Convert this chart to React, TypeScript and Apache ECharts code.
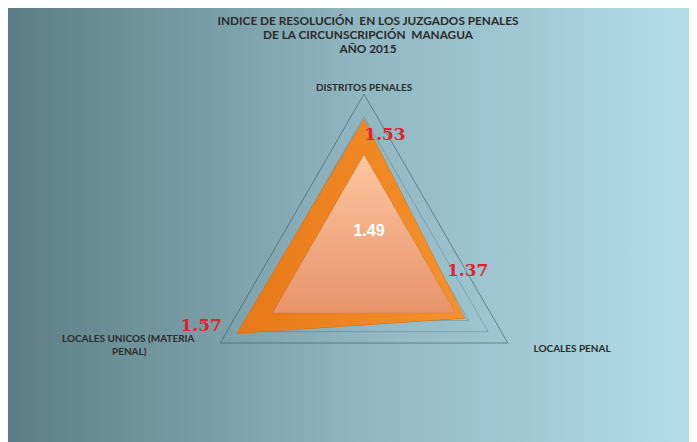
import React, { useEffect, useRef } from "react";
import * as echarts from "echarts";

// ---- data ----
const TITLE_LINES = [
  "INDICE DE RESOLUCIÓN  EN LOS JUZGADOS PENALES",
  "DE LA CIRCUNSCRIPCIÓN  MANAGUA",
  "AÑO 2015",
];
const INDICATORS = ["DISTRITOS PENALES", "LOCALES UNICOS (MATERIA PENAL)", "LOCALES PENAL"];
const VALUES = [1.53, 1.57, 1.37];
const AVERAGE = 1.49;
const AVERAGE_VALUES = [AVERAGE, AVERAGE, AVERAGE];
const AXIS_MIN = 0.6;
const AXIS_MAX = 1.7;
const SPLITS = 22;
const VISIBLE_LEVELS = [1.4, 1.55, 1.7];
const AVG_AXIS_MAX = 2.35;

// ---- layout / style ----
const W = 689;
const H = 434;
const CX = 356;
const CY = 252;
const R = 166;
// per-vertex label shift [dx, dy]
const LABEL_SHIFT: number[][] = [
  [21, 14],
  [-36, -8],
  [3, -48],
];

function shiftPadding(dx: number, dy: number) {
  return [Math.max(0, 2 * dy), Math.max(0, -2 * dx), Math.max(0, -2 * dy), Math.max(0, 2 * dx)];
}

export default function App() {
  const ref = useRef<HTMLDivElement>(null);
  useEffect(() => {
    if (!ref.current) return;
    const chart = echarts.init(ref.current, undefined, { renderer: "svg" });

    const splitColors: string[] = [];
    for (let i = 0; i <= SPLITS; i++) {
      const v = AXIS_MIN + (i * (AXIS_MAX - AXIS_MIN)) / SPLITS;
      const hit = VISIBLE_LEVELS.some((l) => Math.abs(l - v) < 1e-6);
      const outer = Math.abs(v - AXIS_MAX) < 1e-6;
      splitColors.push(hit ? (outer ? "rgba(55,90,100,0.6)" : "rgba(70,105,115,0.35)") : "rgba(0,0,0,0)");
    }

    const rich: any = {};
    VALUES.forEach((_, i) => {
      rich["s" + i] = {
        fontFamily: "DejaVu Serif",
        fontWeight: "bold",
        fontSize: 17,
        color: "#e3202b",
        padding: shiftPadding(LABEL_SHIFT[i][0], LABEL_SHIFT[i][1]),
      };
    });

    const nameStyle = {
      fontFamily: "Lato",
      fontWeight: "bold" as const,
      fontSize: 10,
      color: "#2b2b2b",
    };

    chart.setOption({
      animation: false,
      backgroundColor: {
        type: "linear",
        x: 0,
        y: 0,
        x2: 1,
        y2: 0,
        colorStops: [
          { offset: 0, color: "#5c7d85" },
          { offset: 0.5, color: "#8fb5c0" },
          { offset: 1, color: "#b3deea" },
        ],
      },
      title: {
        text: TITLE_LINES.join("\n"),
        left: 360,
        top: 5,
        textAlign: "center",
        padding: 0,
        textStyle: {
          fontFamily: "Lato",
          fontWeight: "bold",
          fontSize: 11.8,
          lineHeight: 14,
          color: "#2a2a2a",
        },
      },
      radar: [
        {
          center: [CX, CY],
          radius: R,
          shape: "polygon",
          splitNumber: SPLITS,
          startAngle: 90,
          indicator: INDICATORS.map((n) => ({ name: n, min: AXIS_MIN, max: AXIS_MAX })),
          nameGap: 2,
          axisName: {
            ...nameStyle,
            formatter: (name: string) => {
              if (name === INDICATORS[1]) {
                return "{l1|LOCALES UNICOS (MATERIA}\n{l2|PENAL)}";
              }
              if (name === INDICATORS[2]) {
                return "{r|" + name + "}";
              }
              return name;
            },
            rich: {
              l1: { ...nameStyle, padding: [0, 24, 0, 0], lineHeight: 13 },
              l2: { ...nameStyle, padding: [0, 72, 0, 0], lineHeight: 13 },
              r: { ...nameStyle, padding: [8, 0, 0, 24] },
            },
          },
          axisLine: { show: false },
          axisTick: { show: false },
          axisLabel: { show: false },
          splitArea: { show: false },
          splitLine: { lineStyle: { color: splitColors, width: 1 } },
        },
        {
          center: [CX, CY],
          radius: R,
          shape: "polygon",
          startAngle: 90,
          indicator: INDICATORS.map((n) => ({ name: n, min: 0, max: AVG_AXIS_MAX })),
          axisName: { show: false },
          axisLine: { show: false },
          axisTick: { show: false },
          axisLabel: { show: false },
          splitArea: { show: false },
          splitLine: { show: false },
        },
      ],
      series: [
        {
          type: "radar",
          radarIndex: 0,
          z: 2,
          symbol: "none",
          lineStyle: { color: "#d86f17", width: 1 },
          areaStyle: {
            opacity: 1,
            color: {
              type: "linear",
              x: 0,
              y: 0,
              x2: 1,
              y2: 0,
              colorStops: [
                { offset: 0, color: "#e87818" },
                { offset: 1, color: "#f5922c" },
              ],
            },
          },
          data: [{ value: VALUES, name: "Índice" }],
        },
        {
          type: "radar",
          radarIndex: 1,
          z: 3,
          symbol: "none",
          lineStyle: { color: "rgba(170,100,70,0.55)", width: 1 },
          areaStyle: {
            opacity: 1,
            color: {
              type: "linear",
              x: 0,
              y: 0,
              x2: 0,
              y2: 1,
              colorStops: [
                { offset: 0, color: "#fcc6a0" },
                { offset: 1, color: "#e8946c" },
              ],
            },
          },
          data: [{ value: AVERAGE_VALUES, name: "Promedio" }],
        },
        {
          type: "radar",
          radarIndex: 0,
          z: 6,
          symbol: "circle",
          symbolSize: 1,
          itemStyle: { color: "rgba(0,0,0,0)" },
          lineStyle: { opacity: 0, width: 0 },
          label: {
            show: true,
            position: "inside",
            formatter: (p: any) => {
              let i = p.dimensionIndex;
              if (i == null) i = VALUES.indexOf(p.value);
              return "{s" + i + "|" + VALUES[i].toFixed(2) + "}";
            },
            rich,
          },
          data: [{ value: VALUES, name: "Etiquetas" }],
        },
      ],
      graphic: [
        {
          type: "text",
          z: 10,
          x: CX + 5,
          y: CY - 30,
          style: {
            text: AVERAGE.toFixed(2),
            fill: "#ffffff",
            font: "bold 16px 'Liberation Sans', Arial, sans-serif",
            textAlign: "center",
            textVerticalAlign: "middle",
          },
        },
      ],
    });
    return () => chart.dispose();
  }, []);
  return <div ref={ref} style={{ width: W, height: H }} />;
}
